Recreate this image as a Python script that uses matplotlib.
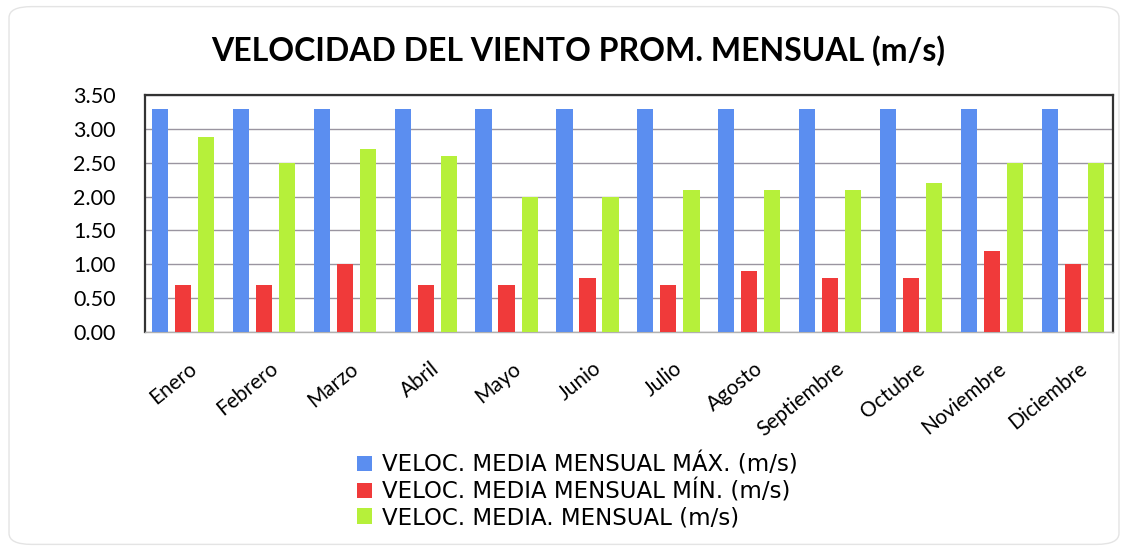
import matplotlib
matplotlib.use("Agg")
import matplotlib.pyplot as plt
import matplotlib.transforms as mtransforms
import numpy as np
from matplotlib.patches import FancyBboxPatch

months = ["Enero", "Febrero", "Marzo", "Abril", "Mayo", "Junio", "Julio",
          "Agosto", "Septiembre", "Octubre", "Noviembre", "Diciembre"]
vel_max = [3.3, 3.3, 3.3, 3.3, 3.3, 3.3, 3.3, 3.3, 3.3, 3.3, 3.3, 3.3]
vel_min = [0.7, 0.7, 1.0, 0.7, 0.7, 0.8, 0.7, 0.9, 0.8, 0.8, 1.2, 1.0]
vel_med = [2.88, 2.5, 2.7, 2.6, 2.0, 2.0, 2.1, 2.1, 2.1, 2.2, 2.5, 2.5]
series_labels = ["VELOC. MEDIA MENSUAL MÁX. (m/s)",
                 "VELOC. MEDIA MENSUAL MÍN. (m/s)",
                 "VELOC. MEDIA. MENSUAL (m/s)"]
yticks = [0.0, 0.5, 1.0, 1.5, 2.0, 2.5, 3.0, 3.5]

plt.rcParams['font.family'] = ['Lato', 'DejaVu Sans']

fig = plt.figure(figsize=(11.28, 5.51), dpi=100)
fig.patches.append(FancyBboxPatch((0.008, 0.012), 0.984, 0.976,
                                  boxstyle="round,pad=0,rounding_size=0.02",
                                  transform=fig.transFigure, fill=False,
                                  edgecolor="#e4e4e4", linewidth=1.0))
ax = fig.add_axes([0.1285, 0.3975, 0.8585, 0.4301])

x = np.arange(len(months))
w = 0.2
off = 0.285
colors = ["#5b8ef0", "#f03a3a", "#b6f03a"]
ax.bar(x - off, vel_max, w, color=colors[0], label=series_labels[0], zorder=3)
ax.bar(x, vel_min, w, color=colors[1], label=series_labels[1], zorder=3)
ax.bar(x + off, vel_med, w, color=colors[2], label=series_labels[2], zorder=3)

ax.set_ylim(0, 3.5)
ax.set_xlim(-0.47, 11.5)
ax.set_yticks(yticks)
ax.set_yticklabels([f"{v:.2f}" for v in yticks], fontsize=15.5)
ax.yaxis.grid(True, color="#9a95a0", linewidth=1.0, zorder=0)
ax.set_axisbelow(True)
ax.tick_params(axis='y', length=0, pad=21)
ax.tick_params(axis='x', length=0, pad=19)
ax.set_xticks(x)
ax.set_xticklabels(months, rotation=39, ha='right', rotation_mode='anchor',
                   fontsize=15)
for s in ["left", "top", "right"]:
    ax.spines[s].set_color("#333333")
    ax.spines[s].set_linewidth(1.6)
ax.spines["bottom"].set_color("#b0b0b0")
ax.spines["bottom"].set_linewidth(1.0)

offset = mtransforms.ScaledTranslation(0.05, 0, fig.dpi_scale_trans)
for lab in ax.get_xticklabels():
    lab.set_transform(lab.get_transform() + offset)

fig.text(0.513, 0.909, "VELOCIDAD DEL VIENTO PROM. MENSUAL (m/s)",
         ha='center', va='center', fontsize=23, fontweight='bold')

leg = fig.legend(loc='center', bbox_to_anchor=(0.512, 0.109), frameon=False,
                 handlelength=0.65, handleheight=0.65,
                 handletextpad=0.45, labelspacing=0.12, borderpad=0,
                 prop={'family': ['DejaVu Sans'], 'size': 16.5})

fig.savefig("out.png", dpi=100)
